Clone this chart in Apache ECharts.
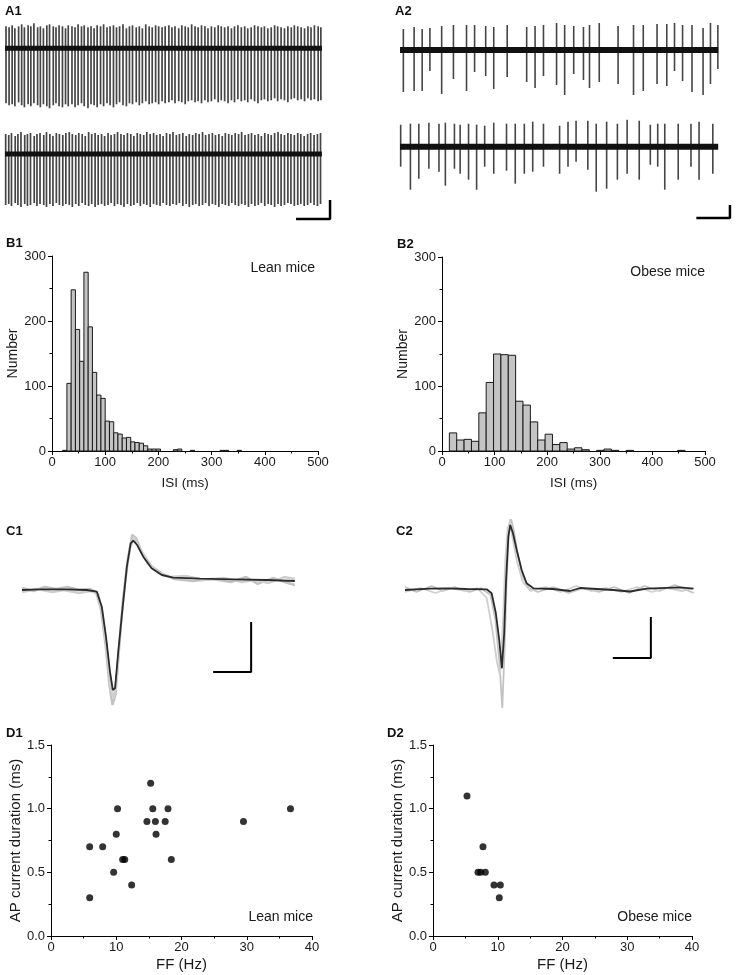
<!DOCTYPE html>
<html><head><meta charset="utf-8">
<script src="https://cdn.jsdelivr.net/npm/echarts/dist/echarts.min.js"></script>
<style>html,body{margin:0;padding:0;background:#fff}#c{width:736px;height:975px}</style>
</head><body><div id="c"></div>
<script>
// ---------- A: spike trains (time in s, amplitude in arbitrary units) ----------
const a1TopTimes = [0.03,0.12,0.21,0.29,0.40,0.49,0.57,0.68,0.76,0.85,
  0.96,1.04,1.13,1.23,1.31,1.42,1.50,1.59,1.69,1.78,
  1.86,1.97,2.06,2.15,2.25,2.33,2.44,2.53,2.62,2.71,
  2.81,2.90,3.00,3.09,3.19,3.28,3.37,3.47,3.57,3.66,
  3.75,3.86,3.95,4.04,4.14,4.24,4.33,4.43,4.52,4.62,
  4.71,4.82,4.91,5.00,5.11,5.20,5.30,5.39,5.49,5.59,
  5.68,5.78,5.88,5.97,6.07,6.17,6.27,6.36,6.46,6.56,
  6.66,6.75,6.85,6.95,7.05,7.14,7.24,7.34,7.44,7.54,
  7.63,7.73,7.83,7.93,8.02,8.12,8.22,8.32,8.42,8.51,
  8.61,8.71,8.81,8.91,9.00,9.10,9.21,9.29];
const a1TopUp = [22,21,23,20,22,24,21,23,22,25, 21,22,20,23,24,22,21,23,22,20,
  23,22,21,24,22,23,21,22,20,23, 22,24,21,22,23,21,22,24,20,22,
  23,21,22,20,24,22,21,23,22,21, 22,23,21,22,20,23,22,21,24,22,
  21,23,22,20,22,21,23,22,21,22, 20,22,23,21,22,20,21,23,22,21,
  22,20,21,23,22,21,20,22,21,23, 22,21,20,22,21,23,22,21];
const a1TopDown = [-55,-57,-56,-58,-54,-57,-59,-56,-58,-55, -57,-59,-56,-58,-60,-57,-55,-58,-59,-56,
  -58,-56,-59,-57,-55,-58,-60,-56,-57,-59, -56,-58,-55,-57,-59,-56,-54,-57,-58,-55,
  -56,-54,-57,-55,-53,-56,-55,-54,-56,-53, -55,-54,-52,-55,-53,-54,-56,-53,-52,-54,
  -53,-55,-52,-54,-53,-51,-54,-52,-53,-55, -52,-54,-51,-53,-52,-54,-51,-53,-55,-52,
  -51,-53,-52,-50,-53,-51,-52,-54,-51,-50, -52,-51,-53,-50,-52,-51,-53,-52];
const a1BotTimes = [0.02,0.11,0.19,0.30,0.38,0.47,0.58,0.66,0.75,0.86,
  0.94,1.03,1.14,1.22,1.32,1.41,1.51,1.60,1.70,1.79,
  1.89,1.98,2.08,2.17,2.27,2.36,2.46,2.55,2.65,2.74,
  2.84,2.93,3.03,3.12,3.22,3.31,3.41,3.50,3.60,3.70,
  3.79,3.89,3.98,4.08,4.17,4.27,4.37,4.46,4.56,4.65,
  4.75,4.85,4.94,5.04,5.13,5.23,5.33,5.42,5.52,5.61,
  5.71,5.81,5.90,6.00,6.10,6.19,6.29,6.39,6.48,6.58,
  6.67,6.77,6.87,6.96,7.06,7.16,7.25,7.35,7.45,7.54,
  7.64,7.74,7.83,7.93,8.03,8.12,8.22,8.32,8.41,8.51,
  8.61,8.70,8.80,8.90,8.99,9.09,9.19,9.28];
const a1BotUp = [20,19,21,18,20,22,19,20,21,18, 20,21,19,22,20,18,21,20,19,21,
  22,20,19,21,20,18,22,20,21,19, 20,18,21,19,20,22,20,19,21,20,
  18,21,20,19,22,20,21,19,20,18, 21,20,22,19,20,21,18,20,19,21,
  20,22,19,20,21,19,20,18,21,20, 19,21,20,22,19,20,21,19,20,18,
  21,20,19,21,22,20,19,21,20,19, 21,20,18,20,21,19,20,21];
const a1BotDown = [-51,-50,-52,-49,-51,-53,-50,-52,-51,-49, -52,-50,-51,-53,-50,-52,-49,-51,-52,-50,
  -51,-53,-50,-52,-49,-51,-52,-50,-53,-51, -50,-52,-51,-49,-52,-50,-51,-53,-50,-52,
  -51,-49,-52,-50,-51,-53,-50,-51,-52,-49, -51,-52,-50,-51,-49,-52,-50,-53,-51,-50,
  -52,-51,-49,-52,-50,-51,-53,-50,-51,-52, -49,-51,-52,-50,-51,-53,-50,-52,-51,-49,
  -52,-50,-51,-53,-50,-52,-51,-49,-50,-52, -51,-50,-52,-51,-49,-51,-52,-50];
const a1End = 9.32;

const a2TopTimes = [0.10,0.42,0.66,0.89,1.24,1.59,1.98,2.22,2.55,2.79,3.19,3.77,4.02,4.27,4.66,4.90,5.17,5.46,5.64,5.93,6.49,6.95,7.24,7.65,7.94,8.17,8.41,8.69,9.02,9.24,9.46];
const a2TopUp = [21,23,21,22,24,25,25,25,24,23,25,23,24,25,27,25,24,23,25,27,24,25,25,26,26,27,25,25,22,27,25];
const a2TopDown = [-42,-41,-41,-21,-44,-29,-41,-22,-26,-39,-27,-32,-38,-26,-35,-45,-24,-30,-38,-32,-34,-45,-41,-34,-36,-21,-31,-42,-45,-34,-19];
const a2BotTimes = [0.02,0.31,0.56,0.86,1.16,1.35,1.62,1.79,2.04,2.28,2.52,2.79,3.17,3.43,3.70,3.95,4.27,4.75,5.00,5.24,5.59,5.84,6.15,6.47,6.76,7.12,7.45,7.67,7.88,8.28,8.66,8.90,9.31];
const a2BotUp = [22,23,23,24,23,24,23,22,23,22,21,24,23,23,23,25,23,21,25,26,26,23,25,23,27,26,22,23,23,23,23,25,23];
const a2BotDown = [-20,-43,-32,-22,-25,-39,-22,-27,-33,-43,-20,-27,-24,-37,-27,-25,-20,-27,-20,-15,-23,-45,-42,-33,-27,-33,-18,-20,-43,-33,-20,-33,-27];
const a2End = 9.47;

// ---------- B: ISI histograms ----------
const b1BinLeft = [20,28,36,44,52,60,68,76,84,92,100,108,116,124,132,140,148,156,164,172,180,188,196,228,236,260,316,324,348];
const b1Count   = [1,104,248,187,138,275,191,121,86,81,46,45,28,26,20,21,14,13,12,8,3,3,3,2,3,1,1,1,1];
const b1BinWidth = 8;
const b2BinLeft = [14,28,42,56,70,84,98,112,126,140,154,168,182,196,210,224,238,252,266,294,308,322,350,448];
const b2Count   = [28,17,18,15,59,106,150,149,148,77,71,45,17,26,10,13,3,5,2,1,3,1,1,1];
const b2BinWidth = 14;
const bXTicks = [0,100,200,300,400,500];
const bYTicks = [0,100,200,300];

// ---------- C: average AP currents [ms, amplitude] ----------
const c1Mean = [[0,0],[0.47,0.7],[1.18,0.7],[1.70,0],[1.97,-1.7],[2.10,-16.7],[2.21,-46.7],[2.32,-83],[2.39,-100],[2.45,-98],[2.53,-63],[2.65,-16.7],[2.76,23.3],[2.86,46.7],[2.93,49.3],[3.03,45],[3.19,33.3],[3.41,21.7],[3.68,15],[3.98,12.3],[4.68,11.3],[5.56,10.7],[6.44,10],[7.18,9]];
const c1GreyA = [[0,2],[0.3,-1],[0.6,3],[0.9,1],[1.2,3],[1.5,0],[1.8,1],[1.95,-2],[2.08,-20],[2.2,-55],[2.3,-95],[2.38,-115],[2.46,-105],[2.55,-60],[2.66,-10],[2.78,30],[2.9,55],[3.0,52],[3.15,38],[3.4,24],[3.7,16],[4.0,11],[4.5,9],[5.0,11],[5.5,8],[5.9,13],[6.2,6],[6.6,12],[7.0,7],[7.18,5]];
const c1GreyB = [[0,-2],[0.4,1],[0.8,-2],[1.1,0],[1.5,-3],[1.8,-1],[2.0,-4],[2.12,-25],[2.24,-62],[2.34,-100],[2.42,-108],[2.5,-85],[2.6,-35],[2.72,10],[2.84,42],[2.95,53],[3.1,42],[3.3,27],[3.6,17],[3.9,13],[4.3,14],[4.8,10],[5.3,12],[5.8,8],[6.1,10],[6.5,7],[6.9,13],[7.18,11]];
const c2Mean = [[0,0],[0.66,1.3],[1.10,1.7],[1.62,1],[2.15,0.7],[2.28,-3.3],[2.39,-23],[2.48,-50],[2.55,-78.3],[2.61,-43],[2.66,10],[2.72,53.3],[2.77,65],[2.84,57],[2.94,40],[3.07,20],[3.20,6.7],[3.38,1.7],[3.90,1],[4.34,-1],[4.61,2],[5.48,0],[5.92,-1.5],[6.36,1.3],[7.24,2.7],[7.59,1.3]];
const c2GreyA = [[0,3],[0.3,-2],[0.7,4],[1.0,-1],[1.3,3],[1.7,-2],[2.0,2],[2.25,-5],[2.38,-30],[2.48,-70],[2.56,-118],[2.62,-60],[2.67,5],[2.73,55],[2.78,73],[2.86,60],[2.97,35],[3.1,14],[3.25,2],[3.5,-2],[3.9,3],[4.3,-3],[4.7,2],[5.1,-2],[5.5,3],[5.9,-3],[6.3,4],[6.7,-1],[7.1,5],[7.6,-3]];
const c2GreyB = [[0,-2],[0.4,2],[0.8,-3],[1.2,2],[1.6,-1],[1.9,2],[2.15,-8],[2.3,-40],[2.42,-72],[2.5,-85],[2.58,-30],[2.64,30],[2.7,62],[2.76,68],[2.84,50],[2.95,28],[3.1,8],[3.3,-1],[3.7,3],[4.1,-2],[4.5,4],[4.9,-1],[5.3,2],[5.7,-2],[6.1,3],[6.5,-2],[6.9,2],[7.3,-1],[7.6,2]];

// ---------- D: AP current duration vs firing frequency ----------
const d1FF  = [5.93,5.93,7.92,9.60,10.0,10.2,10.98,11.3,12.36,14.7,15.27,15.6,16.0,16.1,17.5,17.93,18.44,29.5,36.7];
const d1Dur = [0.70,0.30,0.70,0.50,0.80,1.00,0.60,0.60,0.40,0.90,1.20,1.00,0.90,0.80,0.90,1.00,0.60,0.90,1.00];
const d2FF  = [5.25,7.72,6.95,7.36,8.08,9.42,10.4,10.24];
const d2Dur = [1.10,0.70,0.50,0.50,0.50,0.40,0.40,0.30];

// ---------- build ----------
const FONT = '"Liberation Sans", Arial, Helvetica, sans-serif';
const TXT = '#1a1a1a';
const zip3 = (a,b,c) => a.map((v,i) => [v, b[i], c[i]]);
const zip2 = (a,b) => a.map((v,i) => [v, b[i]]);

const grids = [
  {left:5,   top:18.3,  width:340, height:110},
  {left:5,   top:124,   width:340, height:110},
  {left:400, top:20,    width:340, height:110},
  {left:400, top:116.7, width:340, height:110},
  {left:52,  top:256,   width:266, height:195},
  {left:442, top:257,   width:263, height:194},
  {left:22,  top:520,   width:304, height:200},
  {left:405, top:520,   width:304, height:200},
  {left:51,  top:745,   width:261, height:191},
  {left:433, top:745,   width:259, height:191}
];
const xAxes = [], yAxes = [];
function hidden(gi, xmax, ymin, ymax){
  xAxes.push({type:'value', gridIndex:gi, min:0, max:xmax, show:false});
  yAxes.push({type:'value', gridIndex:gi, min:ymin, max:ymax, show:false});
}
function common(nameSize){
  return {
    axisLine:{show:true, onZero:false, lineStyle:{color:'#000', width:1}},
    axisTick:{show:true, inside:false, length:4, lineStyle:{color:'#000', width:1}},
    minorTick:{show:true, splitNumber:2, length:2.5, lineStyle:{color:'#000', width:1}},
    splitLine:{show:false}, minorSplitLine:{show:false},
    nameTextStyle:{color:TXT, fontSize:nameSize, fontFamily:FONT}
  };
}
function visX(gi, min, max, interval, name, gap, nameSize){
  xAxes.push(Object.assign({type:'value', gridIndex:gi, min, max, interval, name, nameLocation:'middle', nameGap:gap,
    axisLabel:{color:TXT, fontSize:13, fontFamily:FONT, margin:5, showMinLabel:true, showMaxLabel:true}}, common(nameSize)));
}
function visY(gi, min, max, interval, name, gap, dec, nameSize){
  yAxes.push(Object.assign({type:'value', gridIndex:gi, min, max, interval, name, nameLocation:'middle', nameGap:gap, nameRotate:90,
    axisLabel:{color:TXT, fontSize:13, fontFamily:FONT, margin:6, showMinLabel:true, showMaxLabel:true,
      formatter: v => dec ? v.toFixed(dec) : String(v)}}, common(nameSize)));
}
hidden(0,10,-80,30); hidden(1,10,-80,30); hidden(2,10,-80,30); hidden(3,10,-80,30);
visX(4, bXTicks[0], bXTicks[bXTicks.length-1], 100, 'ISI (ms)', 25, 13.5);
visY(4, bYTicks[0], bYTicks[bYTicks.length-1], 100, 'Number', 32, 0, 14);
visX(5, bXTicks[0], bXTicks[bXTicks.length-1], 100, 'ISI (ms)', 25, 13.5);
visY(5, bYTicks[0], bYTicks[bYTicks.length-1], 100, 'Number', 32, 0, 14);
hidden(6,8,-130,70); hidden(7,8,-130,70);
visX(8, 0, 40, 10, 'FF (Hz)', 21, 15);
visY(8, 0, 1.5, 0.5, 'AP current duration (ms)', 28, 1, 15);
visX(9, 0, 40, 10, 'FF (Hz)', 21, 15);
visY(9, 0, 1.5, 0.5, 'AP current duration (ms)', 28, 1, 15);

const series = [];
function spikes(gi, t, up, dn, end, sw, bw){
  series.push({type:'custom', xAxisIndex:gi, yAxisIndex:gi, silent:true, z:2,
    data: zip3(t, up, dn), encode:{x:0, y:[1,2]},
    renderItem:(p, api) => {
      const a = api.coord([api.value(0), api.value(1)]);
      const b = api.coord([api.value(0), api.value(2)]);
      return {type:'line', shape:{x1:a[0], y1:a[1], x2:b[0], y2:b[1]}, style:{stroke:'#454545', lineWidth:sw}};
    }});
  series.push({type:'line', xAxisIndex:gi, yAxisIndex:gi, silent:true, z:3, symbol:'none',
    data:[[0,0],[end,0]], lineStyle:{color:'#111', width:bw}});
}
spikes(0, a1TopTimes, a1TopUp, a1TopDown, a1End, 1.7, 5);
spikes(1, a1BotTimes, a1BotUp, a1BotDown, a1End, 1.7, 5);
spikes(2, a2TopTimes, a2TopUp, a2TopDown, a2End, 1.6, 6);
spikes(3, a2BotTimes, a2BotUp, a2BotDown, a2End, 1.6, 6);
function bar(gi, pts, w){
  series.push({type:'line', xAxisIndex:gi, yAxisIndex:gi, silent:true, z:4, symbol:'none',
    data:pts, lineStyle:{color:'#000', width:w}});
}
bar(1, [[8.56,-65],[9.56,-65],[9.56,-46]], 2.5);
bar(3, [[8.82,-71.3],[9.82,-71.3],[9.82,-58.3]], 2.5);

function hist(gi, left, count, width){
  series.push({type:'custom', xAxisIndex:gi, yAxisIndex:gi, silent:true,
    data: zip2(left, count), encode:{x:0, y:1},
    renderItem:(p, api) => {
      const a = api.coord([api.value(0), api.value(1)]);
      const b = api.coord([api.value(0) + width, 0]);
      return {type:'rect', shape:{x:a[0], y:a[1], width:b[0]-a[0], height:b[1]-a[1]},
        style:{fill:'#c4c4c4', stroke:'#1a1a1a', lineWidth:1}};
    }});
}
hist(4, b1BinLeft, b1Count, b1BinWidth);
hist(5, b2BinLeft, b2Count, b2BinWidth);

function trace(gi, data, color, w, z){
  series.push({type:'line', xAxisIndex:gi, yAxisIndex:gi, silent:true, z, symbol:'none',
    data, lineStyle:{color, width:w}});
}
trace(6, c1GreyA, '#c2c2c2', 2.4, 2); trace(6, c1GreyB, '#cfcfcf', 2.4, 2); trace(6, c1Mean, '#2b2b2b', 1.8, 3);
trace(7, c2GreyA, '#c2c2c2', 1.8, 2); trace(7, c2GreyB, '#cfcfcf', 1.8, 2); trace(7, c2Mean, '#2b2b2b', 1.8, 3);
bar(6, [[5.03,-82],[6.03,-82],[6.03,-32]], 2);
bar(7, [[5.47,-68],[6.47,-68],[6.47,-27]], 2);

series.push({type:'scatter', xAxisIndex:8, yAxisIndex:8, data:zip2(d1FF, d1Dur), symbol:'circle', symbolSize:7, itemStyle:{color:'#000'}, silent:true});
series.push({type:'scatter', xAxisIndex:9, yAxisIndex:9, data:zip2(d2FF, d2Dur), symbol:'circle', symbolSize:7, itemStyle:{color:'#000'}, silent:true});

function label(text, x, y){
  return {type:'text', x, y, silent:true, style:{text, font:'bold 13px '+FONT, fill:'#111', verticalAlign:'middle', textVerticalAlign:'middle'}};
}
function note(text, x, y){
  return {type:'text', x, y, silent:true, style:{text, font:'14px '+FONT, fill:TXT, align:'right', textAlign:'right', verticalAlign:'middle', textVerticalAlign:'middle'}};
}
const graphic = [
  label('A1',5,11), label('A2',395,11.5), label('B1',6,243.5), label('B2',397,244),
  label('C1',6,531), label('C2',396,531), label('D1',6,733.5), label('D2',387,733.5),
  note('Lean mice',315,268), note('Obese mice',705,272), note('Lean mice',313,917), note('Obese mice',692,917)
];

const chart = echarts.init(document.getElementById('c'), null, {renderer:'canvas'});
chart.setOption({animation:false, backgroundColor:'#fff', textStyle:{fontFamily:FONT},
  grid:grids, xAxis:xAxes, yAxis:yAxes, series, graphic});
</script></body></html>
